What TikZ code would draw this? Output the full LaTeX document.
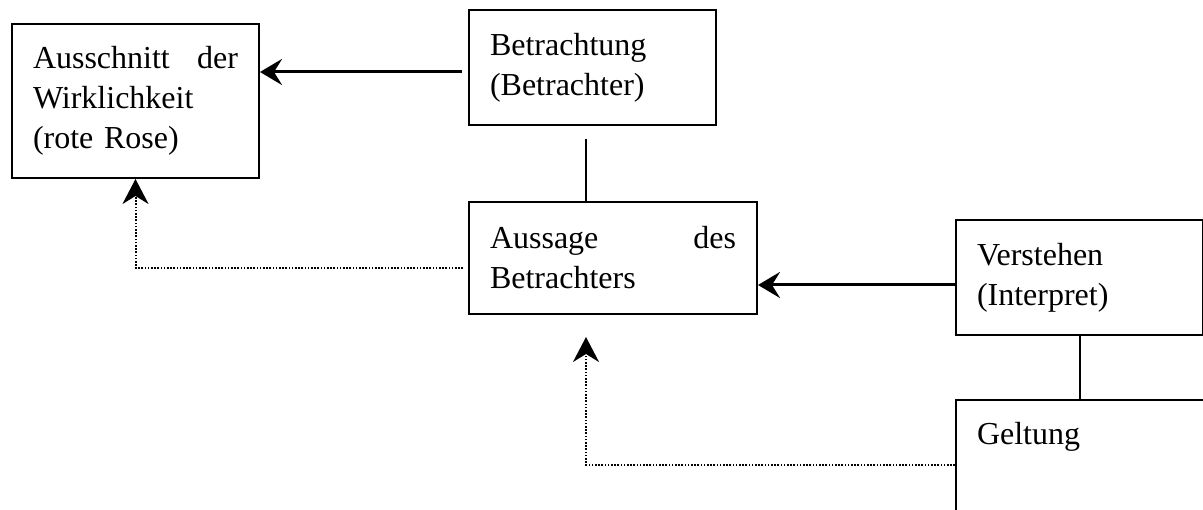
\documentclass[tikz,border=0pt]{standalone}
\usepackage{fontspec}
\setmainfont{Liberation Serif}
\usetikzlibrary{arrows.meta,calc}

\begin{document}
\begin{tikzpicture}[x=1pt,y=-1pt,
  box/.style={draw, line width=2pt, anchor=north west, align=left,
    inner xsep=21pt, inner ysep=0pt,
    font=\fontsize{32}{40}\selectfont},
  solidarrow/.style={line width=3pt,
    -{Stealth[length=22pt,width=26pt,inset=8pt]}},
  dotarrow/.style={line width=2pt, dash pattern=on 1.6pt off 1.6pt,
    -{Stealth[length=25pt,width=26pt,inset=8pt]}},
  link/.style={line width=2pt}]

  \useasboundingbox (0,0) rectangle (1203,510);

  % boxes
  \node[box, text width=205pt, minimum height=154pt] (b1) at (11,23)
    {Ausschnitt\hfill der\\Wirklichkeit\\(rote Rose)};
  \node[box, text width=205pt, minimum height=115pt] (b2) at (468,9)
    {Betrachtung\\(Betrachter)};
  \node[box, text width=246pt, minimum height=112pt] (b3) at (468,201)
    {Aussage\hfill des\\Betrachters};
  \node[box, text width=205pt, minimum height=115pt] (b4) at (955,219)
    {Verstehen\\(Interpret)};
  \node[box, text width=206pt, inner ysep=22pt, text depth=70pt] (b5) at (955,399)
    {Geltung};

  % connectors
  \coordinate (s21) at ($(b2.north west)+(-6,63)$);
  \draw[solidarrow] (s21) -- (b1.east |- s21);

  \coordinate (s23) at ($(b2.south west)+(118,13)$);
  \draw[link] (s23) -- (s23 |- b3.north);

  \coordinate (s31) at ($(b3.north west)+(-5,67)$);
  \draw[dotarrow] (s31) -| (b1.south);

  \coordinate (s43) at ($(b4.north west)+(0,66)$);
  \draw[solidarrow] (s43) -- (b3.east |- s43);

  \draw[link] (b4.south) -- (b4.south |- b5.north);

  \coordinate (s53) at ($(b5.north west)+(0,66)$);
  \coordinate (t53) at ($(b3.south west)+(118,22)$);
  \draw[dotarrow] (s53) -| (t53);
\end{tikzpicture}
\end{document}
